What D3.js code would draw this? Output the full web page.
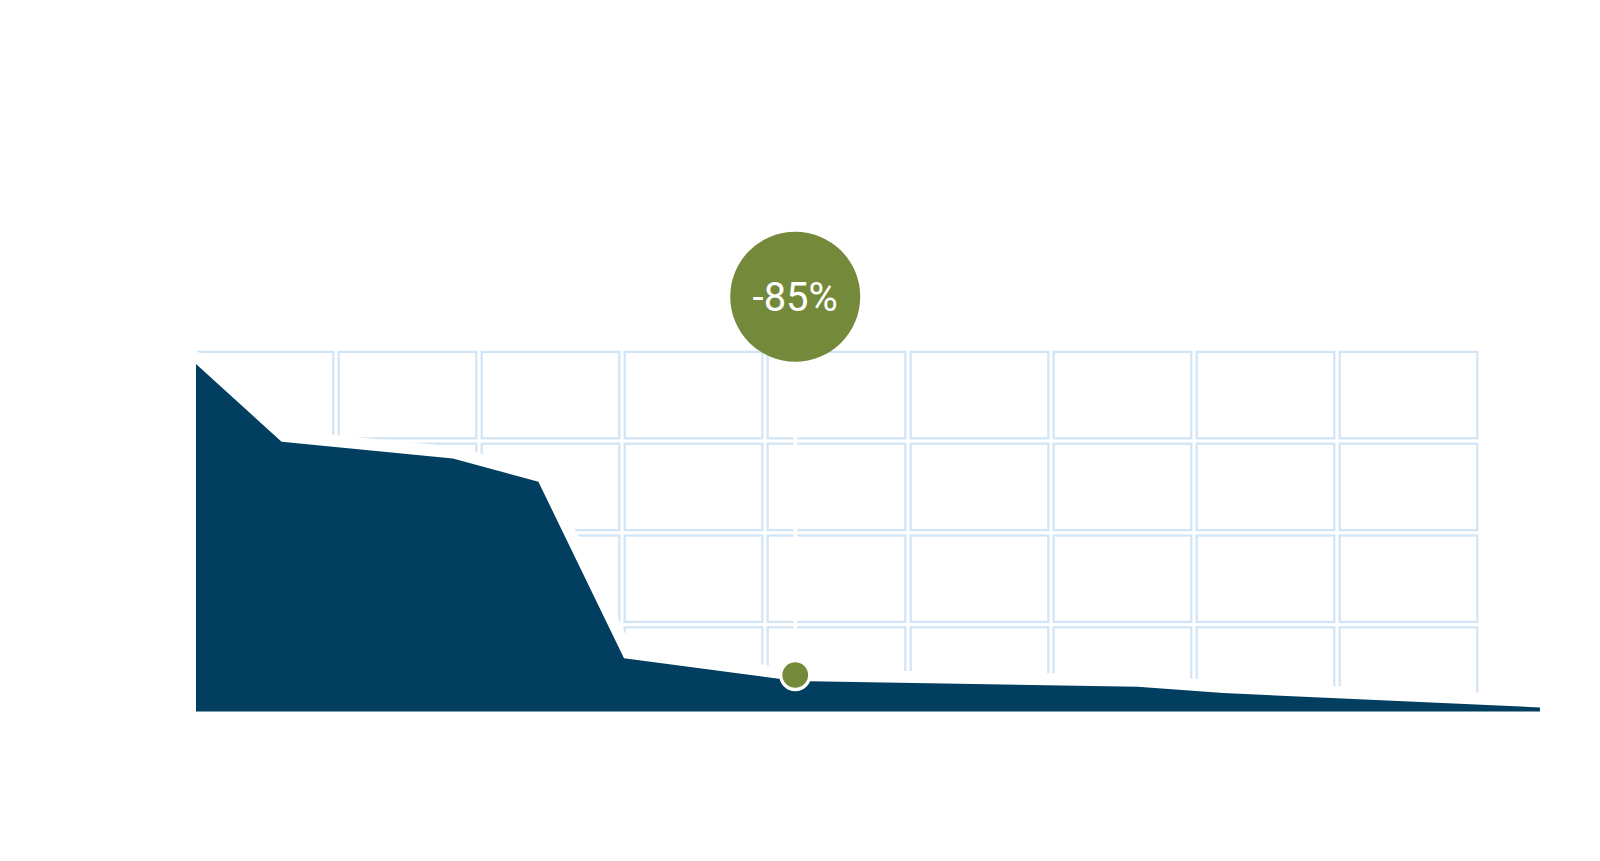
<!DOCTYPE html>
<html>
<head>
<meta charset="utf-8">
<script src="https://cdn.jsdelivr.net/npm/d3@7"></script>
<style>
  html, body { margin: 0; padding: 0; background: #ffffff; }
  svg { display: block; }
</style>
</head>
<body>
<svg id="chart" width="1600" height="861"></svg>
<script>
// ---- data ----
const years  = [2000, 2001, 2003, 2004, 2005, 2007, 2011, 2012, 2015.7];
const values = [100, 77.6, 72.8, 66.1, 15.3, 8.8, 7.1, 5.3, 1.15];
const markerYear = 2007;
const markerValue = 10.5;
const markerLabel = "-85%";
const gridCols = 9;
const gridRows = 4;

// ---- layout ----
const svg = d3.select("#chart");

const x = d3.scaleLinear().domain([2000, 2015.7]).range([196, 1540]);
const y = d3.scaleLinear().domain([0, 100]).range([711.5, 364]);

const gx = d3.scaleLinear().domain([0, gridCols]).range([193, 1480]);
const gy = d3.scaleLinear().domain([0, gridRows]).range([349.2, 716.4]);

const data = years.map((yr, i) => ({ yr, v: values[i] }));

// clip for grid (hidden under the area's left & bottom edges)
svg.append("defs").append("clipPath").attr("id", "gridclip")
  .append("rect")
  .attr("x", x(2000) + 1).attr("y", 0)
  .attr("width", 1600).attr("height", y(0) - 2);

// grid cells
const cells = [];
for (let i = 0; i < gridCols; i++)
  for (let j = 0; j < gridRows; j++) cells.push({ i, j });
const inset = 2.7;
svg.append("g").attr("clip-path", "url(#gridclip)")
  .selectAll("rect").data(cells).join("rect")
  .attr("x", d => gx(d.i) + inset)
  .attr("y", d => gy(d.j) + inset)
  .attr("width", d => gx(d.i + 1) - gx(d.i) - 2 * inset)
  .attr("height", d => gy(d.j + 1) - gy(d.j) - 2 * inset)
  .attr("fill", "none")
  .attr("stroke", "#d2e5f7")
  .attr("stroke-width", 2.3);

// white connector between bubble and marker
const mx = x(markerYear), my = y(markerValue);
const bubbleCy = 296.7, bubbleR = 65;
svg.append("line")
  .attr("x1", mx).attr("x2", mx)
  .attr("y1", bubbleCy).attr("y2", my)
  .attr("stroke", "#ffffff").attr("stroke-width", 4);

// halo along the line
const line = d3.line().x(d => x(d.yr)).y(d => y(d.v));
svg.append("path")
  .datum(data)
  .attr("d", line)
  .attr("fill", "none")
  .attr("stroke", "#ffffff")
  .attr("stroke-width", 24)
  .attr("stroke-linejoin", "round")
  .attr("stroke-linecap", "round");

// area
const area = d3.area().x(d => x(d.yr)).y0(y(0)).y1(d => y(d.v));
svg.append("path")
  .datum(data)
  .attr("d", area)
  .attr("fill", "#023e5f");

// marker
svg.append("circle")
  .attr("cx", mx).attr("cy", my).attr("r", 14.5)
  .attr("fill", "#748a3a")
  .attr("stroke", "#ffffff").attr("stroke-width", 3.3);

// bubble
svg.append("circle")
  .attr("cx", mx).attr("cy", bubbleCy).attr("r", bubbleR)
  .attr("fill", "#748a3a");
svg.append("text")
  .attr("x", mx).attr("y", bubbleCy + 14)
  .attr("text-anchor", "middle")
  .attr("fill", "#ffffff")
  .attr("font-family", "Roboto, sans-serif")
  .attr("font-weight", 400)
  .attr("font-size", 40)
  .text(markerLabel);
</script>
</body>
</html>
